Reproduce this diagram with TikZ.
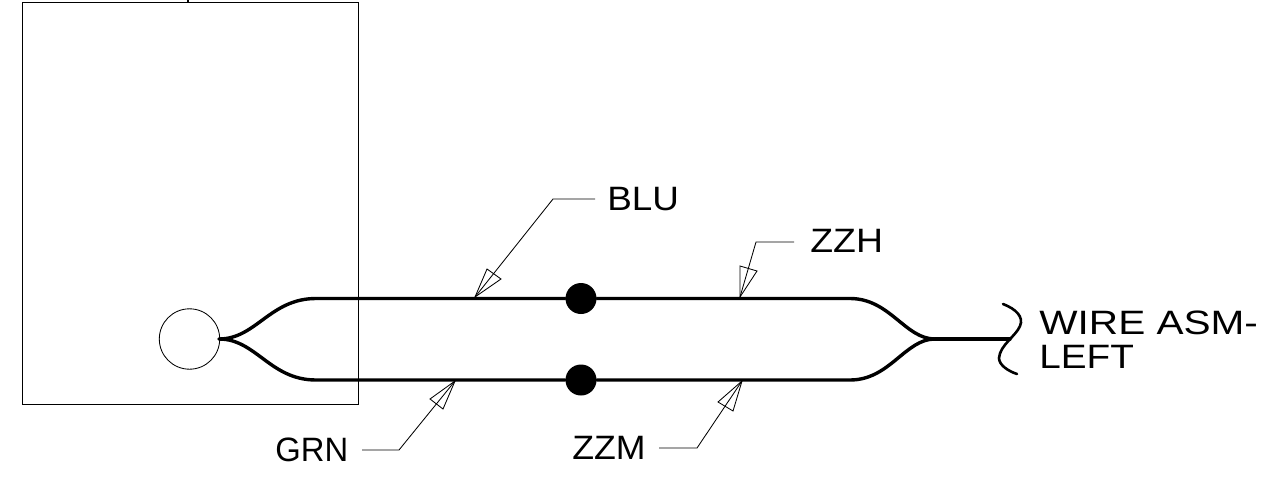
\documentclass[tikz,border=0pt]{standalone}
\usepackage{graphicx}
\usepackage{fontspec}
\setmainfont{Liberation Sans}
\begin{document}
\begin{tikzpicture}[x=0.5pt,y=-0.5pt,
  thinline/.style={line width=0.42pt,black},
  wire/.style={line width=1.7pt,black,line cap=round},
  lab/.style={font=\fontsize{16.9pt}{17pt}\selectfont,inner sep=0pt,anchor=base west,text=black},
  dot/.style={circle,fill=black,draw=none,minimum size=15.5pt,inner sep=0pt},
  tip/.style={thinline,line join=miter}]
\useasboundingbox (0,0) rectangle (1273,487);
% housing
\node[draw,thinline,rectangle,minimum width=168pt,minimum height=201pt,inner sep=0pt] (box) at (190,203) {};
\coordinate (tickA) at (188,0);
\coordinate (tickB) at (188,3);
\draw[line width=1.2pt] (tickA) -- (tickB);
\node[draw,thinline,circle,minimum size=30.2pt,inner sep=0pt] (term) at (189.5,339) {};
% junctions and solder dots
\coordinate (split) at (219,339);
\coordinate (merge) at (935,339);
\coordinate (endw) at (1010,339);
\node[dot] (dotT) at (581,298.5) {};
\node[dot] (dotB) at (581,380) {};
% wires
\draw[wire] (split) .. controls (256,339) and (270,298.5) .. (316,298.5) -- (dotT) -- (850,298.5)
  .. controls (890,298.5) and (905,339) .. (merge);
\draw[wire] (split) .. controls (256,339) and (270,380) .. (316,380) -- (dotB) -- (850,380)
  .. controls (890,380) and (905,339) .. (merge);
\draw[wire] (merge) -- (endw);
% break mark
\coordinate (brA) at (1003,304);
\coordinate (brB) at (1017,374);
\draw[line width=1.3pt,line cap=round] (brA) .. controls (1016,309) and (1024,317) .. (1020,326)
  .. controls (1016,336) and (1000,345) .. (999,358) .. controls (999,365) and (1008,371) .. (brB);
% labels
\node[lab] (blu) at (607,210.5) {\scalebox{1.09}[1]{BLU}};
\node[lab] (zzh) at (810,252.5) {\scalebox{1.105}[1]{ZZH}};
\node[lab] (grn) at (275,461) {\scalebox{0.97}[1]{GRN}};
\node[lab] (zzm) at (572,459.5) {\scalebox{1.055}[1]{ZZM}};
\node[lab] (wireA) at (1039,334) {\scalebox{1.2}[1]{WIRE ASM-}};
\node[lab] (wireB) at (1039,368) {\scalebox{1.145}[1]{LEFT}};
% leader BLU
\coordinate (bluS) at (595,199); \coordinate (bluE) at (553,199);
\coordinate (bluT) at (475,297); \coordinate (bluW) at (487,269); \coordinate (bluV) at (501,279);
\draw[thinline] (bluS) -- (bluE) -- (bluT);
\draw[tip] (bluT) -- (bluW) -- (bluV) -- cycle;
% leader ZZH
\coordinate (zhS) at (794,242); \coordinate (zhE) at (756,242);
\coordinate (zhT) at (740,297); \coordinate (zhW) at (740,266); \coordinate (zhV) at (757,271);
\draw[thinline] (zhS) -- (zhE) -- (zhT);
\draw[tip] (zhT) -- (zhW) -- (zhV) -- cycle;
% leader GRN
\coordinate (grS) at (362,450); \coordinate (grE) at (399,450);
\coordinate (grT) at (455,381); \coordinate (grW) at (430,399); \coordinate (grV) at (443,409);
\draw[thinline] (grS) -- (grE) -- (grT);
\draw[tip] (grT) -- (grW) -- (grV) -- cycle;
% leader ZZM
\coordinate (zmS) at (659,448); \coordinate (zmE) at (697,448);
\coordinate (zmT) at (742,381); \coordinate (zmW) at (718,402); \coordinate (zmV) at (733,411);
\draw[thinline] (zmS) -- (zmE) -- (zmT);
\draw[tip] (zmT) -- (zmW) -- (zmV) -- cycle;
\end{tikzpicture}
\end{document}
